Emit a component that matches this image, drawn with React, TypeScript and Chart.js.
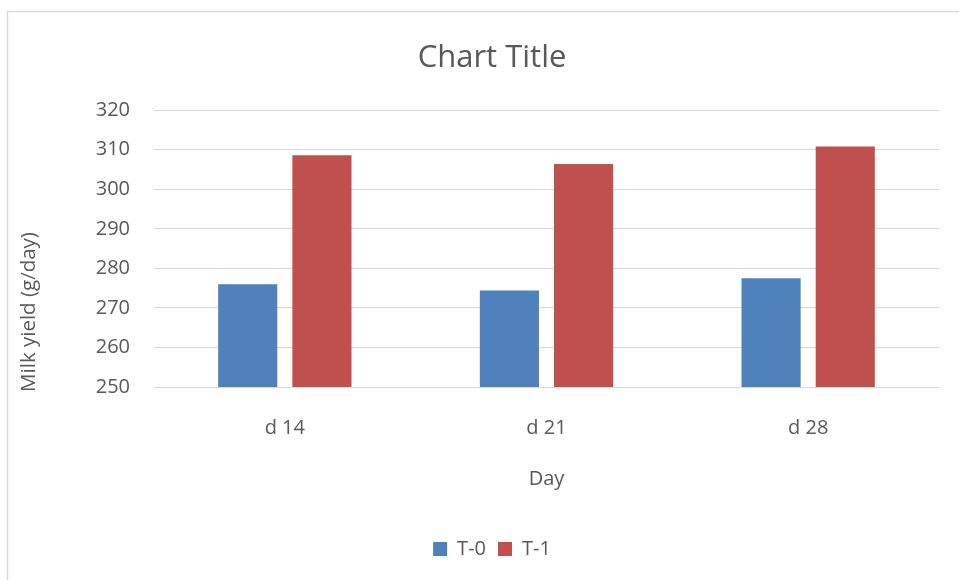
import React, { useEffect, useRef } from 'react';
import { Chart, registerables } from 'chart.js';

Chart.register(...registerables);

const categories = ['d 14', 'd 21', 'd 28'];
const seriesT0 = [276.0, 274.4, 277.5];
const seriesT1 = [308.6, 306.4, 310.8];
const seriesNames = ['T-0', 'T-1'];
const yMin = 250;
const yMax = 320;
const yStep = 10;
const chartTitle = 'Chart Title';
const xTitle = 'Day';
const yTitle = 'Milk yield (g/day)';

const FONT = "'Open Sans', 'Noto Sans', sans-serif";
const TEXT = '#595959';
const GRID = '#d9d9d9';
const BLUE = '#4F81BD';
const RED = '#C0504D';

const decor = {
  id: 'decor',
  beforeDraw(chart: any) {
    const ctx = chart.ctx;
    ctx.save();
    ctx.fillStyle = '#ffffff';
    ctx.fillRect(0, 0, chart.width, chart.height);
    ctx.strokeStyle = GRID;
    ctx.lineWidth = 1.5;
    ctx.strokeRect(7.5, 11.5, 2000, 2000);
    ctx.restore();
  },
  afterDraw(chart: any) {
    const ctx = chart.ctx;
    ctx.save();
    ctx.translate(29, 312);
    ctx.rotate(-Math.PI / 2);
    ctx.fillStyle = TEXT;
    ctx.font = `20.5px ${FONT}`;
    ctx.textAlign = 'center';
    ctx.textBaseline = 'middle';
    ctx.fillText(yTitle, 0, 0);
    ctx.restore();
  },
};

export default function App() {
  const ref = useRef<HTMLCanvasElement | null>(null);
  useEffect(() => {
    if (!ref.current) return;
    const chart = new Chart(ref.current, {
      type: 'bar',
      data: {
        labels: categories,
        datasets: [
          { label: seriesNames[0], data: seriesT0, backgroundColor: BLUE, borderWidth: 0 },
          { label: seriesNames[1], data: seriesT1, backgroundColor: RED, borderWidth: 0 },
        ],
      },
      options: {
        animation: false,
        responsive: false,
        maintainAspectRatio: false,
        devicePixelRatio: 1,
        categoryPercentage: 0.567,
        barPercentage: 0.797,
        layout: { padding: { left: 45, right: 20, top: 0, bottom: 11 } },
        plugins: {
          title: {
            display: true,
            text: chartTitle,
            color: TEXT,
            font: { family: FONT, size: 31, weight: 'normal' },
            padding: { top: 40, bottom: 33 },
          },
          legend: {
            position: 'bottom',
            labels: {
              boxWidth: 14,
              boxHeight: 14,
              color: TEXT,
              font: { family: FONT, size: 20 },
              padding: 12,
            },
          },
          tooltip: { enabled: false },
        },
        scales: {
          x: {
            grid: { display: false, drawTicks: false },
            border: { display: true, color: GRID, width: 1 },
            ticks: { color: TEXT, font: { family: FONT, size: 20 }, padding: 29 },
            title: {
              display: true,
              text: xTitle,
              color: TEXT,
              font: { family: FONT, size: 20 },
              padding: { top: 0, bottom: 36 },
            },
            afterFit(scale: any) {
              scale.height = 140;
            },
          },
          y: {
            min: yMin,
            max: yMax,
            ticks: { stepSize: yStep, color: TEXT, font: { family: FONT, size: 20 }, padding: 24 },
            grid: { color: GRID, drawTicks: false, lineWidth: 1 },
            border: { display: false },
            afterFit(scale: any) {
              scale.width = 109;
            },
          },
        },
      },
      plugins: [decor],
    });
    return () => chart.destroy();
  }, []);
  return (
    <div style={{ position: 'fixed', left: 0, top: 0, width: 959, height: 580 }}>
      <canvas ref={ref} width={959} height={580} style={{ width: 959, height: 580 }} />
    </div>
  );
}
